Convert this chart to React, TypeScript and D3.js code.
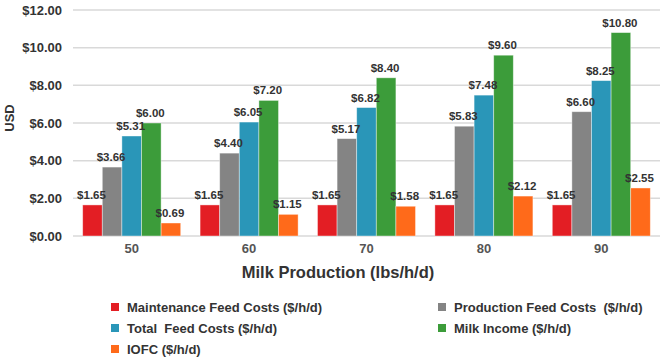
import React from 'react'
import * as d3 from 'd3'

const categories = ['50', '60', '70', '80', '90']
const seriesNames = [
  'Maintenance Feed Costs ($/h/d)',
  'Production Feed Costs  ($/h/d)',
  'Total  Feed Costs ($/h/d)',
  'Milk Income ($/h/d)',
  'IOFC ($/h/d)',
]
const seriesColors = ['#e31e24', '#848484', '#2a96b8', '#3c9c3a', '#ff6a1a']
const maintenance = [1.65, 1.65, 1.65, 1.65, 1.65]
const production = [3.66, 4.4, 5.17, 5.83, 6.6]
const totalFeed = [5.31, 6.05, 6.82, 7.48, 8.25]
const milkIncome = [6.0, 7.2, 8.4, 9.6, 10.8]
const iofc = [0.69, 1.15, 1.58, 2.12, 2.55]
const yTicks = [0, 2, 4, 6, 8, 10, 12]

const series = [maintenance, production, totalFeed, milkIncome, iofc]

// legend layout: [column, row] for each series
const legendSlots = [[0, 0], [1, 0], [0, 1], [1, 1], [0, 2]]

const font = '"Liberation Sans", Arial, sans-serif'

export default function App() {
  const width = 664
  const height = 362
  const left = 73
  const right = 660
  const top = 10
  const bottom = 236

  const x0 = d3.scaleBand().domain(categories).range([left, right]).paddingInner(0.165).paddingOuter(0.0825)
  const x1 = d3.scaleBand().domain(seriesNames).range([0, x0.bandwidth()])
  const y = d3.scaleLinear().domain([0, 12]).range([bottom, top])
  const fmt = d3.format('$.2f')

  return (
    <svg width={width} height={height} style={{ position: 'absolute', left: 0, top: 0 }} fontFamily={font}>
      {yTicks.map(t => (
        <g key={t}>
          <line x1={left} x2={right} y1={y(t)} y2={y(t)} stroke="#d9d9d9" strokeWidth={1.5} />
          <text x={62} y={y(t)} dy="0.35em" textAnchor="end" fontSize={13} fontWeight="bold" fill="#333">
            {fmt(t)}
          </text>
        </g>
      ))}
      <text transform="translate(13.5,118) rotate(-90)" textAnchor="middle" fontSize={13} fontWeight="bold" fill="#333">
        USD
      </text>

      {categories.map(c => (
        <g key={c} transform={`translate(${x0(c)},0)`}>
          {series.map((s, j) => {
            const v = s[categories.indexOf(c)]
            return (
              <rect key={j} x={x1(seriesNames[j])!} y={y(v)} width={x1.bandwidth()} height={bottom - y(v)} fill={seriesColors[j]} stroke="#ffffff" strokeOpacity={0.5} strokeWidth={0.8} />
            )
          })}
          <text x={x0.bandwidth() / 2} y={253} textAnchor="middle" fontSize={13} fontWeight="bold" fill="#555">
            {c}
          </text>
        </g>
      ))}

      {/* value labels on top of all bars */}
      {categories.map((c, i) => (
        <g key={'l' + c} transform={`translate(${x0(c)},0)`}>
          {series.map((s, j) => (
            <text key={j} x={x1(seriesNames[j])! + x1.bandwidth() / 2 - 1} y={y(s[i]) - 6} textAnchor="middle" fontSize={11.5} fontWeight="bold" fill="#333">
              {fmt(s[i])}
            </text>
          ))}
        </g>
      ))}

      <text x={338} y={278} textAnchor="middle" fontSize={16.5} fontWeight="bold" fill="#333">
        Milk Production (lbs/h/d)
      </text>

      {seriesNames.map((n, j) => {
        const [col, row] = legendSlots[j]
        const lx = col === 0 ? 111 : 438
        const ly = 307 + row * 21
        return (
          <g key={n}>
            <rect x={lx} y={ly - 4} width={8} height={8} fill={seriesColors[j]} />
            <text x={lx + 16} y={ly} dy="0.35em" fontSize={13} fontWeight="bold" fill="#333" style={{ whiteSpace: 'pre' }}>
              {n}
            </text>
          </g>
        )
      })}
    </svg>
  )
}
